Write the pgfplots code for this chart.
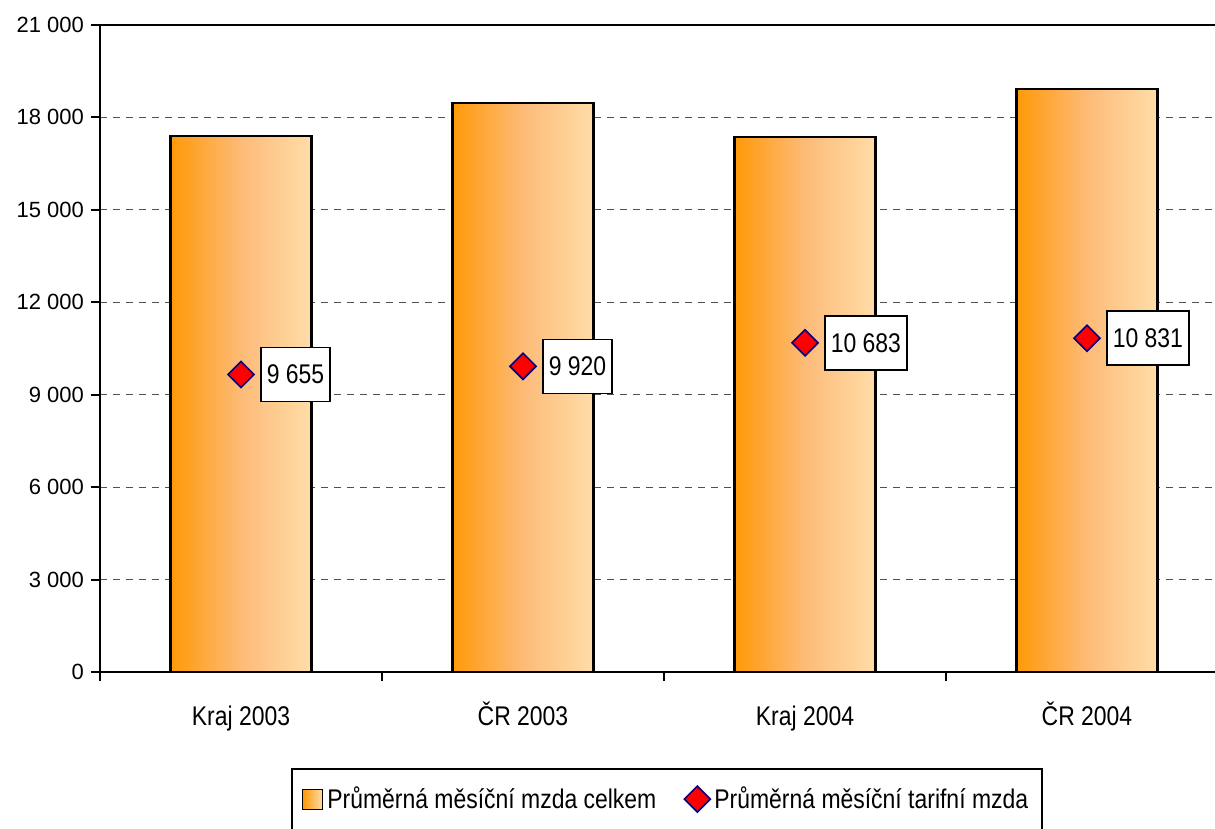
\documentclass[border=0pt]{standalone}
\usepackage{fontspec}
\setmainfont{Liberation Sans}[FakeStretch=0.85]
\newfontfamily\yfont{Liberation Sans}
\usepackage{pgfplots}
\pgfplotsset{compat=1.18}
\definecolor{barL}{HTML}{FF9908}
\definecolor{barM}{HTML}{FDBB78}
\definecolor{barR}{HTML}{FFDDA8}
\definecolor{mkblue}{HTML}{000080}
\definecolor{gridc}{HTML}{505050}
\newcommand{\ff}{\fontsize{13.5}{16}\selectfont}
\pgfplotsset{
  barlegend/.style={legend image code/.code={\draw[left color=barL, right color=barR, draw=black, line width=0.7pt] (0pt,-5pt) rectangle (10pt,5pt);}},
  marklegend/.style={legend image code/.code={\draw[##1] plot coordinates {(5pt,0pt)};}},
  gbar/.style={ybar, bar width=0.5, draw=black, line width=1.1pt,
    left color=barL, right color=barR, middle color=barM},
}
\begin{document}
\begin{tikzpicture}
\begin{axis}[
  at={(0,0)}, anchor=south west,
  scale only axis, width=564pt, height=323.5pt,
  xmin=-0.5, xmax=3.5, ymin=0, ymax=21000,
  axis line style={line width=1pt, black},
  xtick={-0.5,0.5,1.5,2.5,3.5}, xticklabels={},
  extra x ticks={0,1,2,3},
  extra x tick labels={Kraj 2003, ČR 2003, Kraj 2004, ČR 2004},
  extra x tick style={tick style={draw=none}, xticklabel style={anchor=base, yshift=-22pt}},
  ytick={0,3000,...,21000},
  scaled y ticks=false,
  /pgf/number format/assume math mode=true,
  /pgf/number format/1000 sep={\ },
  tick pos=left, tick align=outside,
  major tick length=4.5pt,
  tick style={line width=1pt, black},
  ymajorgrids,
  grid style={gridc, line width=0.5pt, dash pattern=on 3.5pt off 3pt},
  xticklabel style={font=\ff},
  yticklabel style={font=\yfont\fontsize{11}{13}\selectfont},
  legend style={draw=black, line width=0.8pt, font=\ff, at={(0.5027,-0.1484)}, anchor=north,
    legend columns=2, inner xsep=5pt, inner ysep=7pt,
    /tikz/every even column/.append style={column sep=12pt}},
  legend cell align=left,
]
\addplot[gbar, barlegend] coordinates {(0,17400)};
\addlegendentry{Průměrná měsíční mzda celkem}
\addplot[only marks, mark=square*, mark size=4.6pt,
  mark options={rotate=45, fill=red, draw=mkblue, line width=0.8pt},
  point meta=y,
  nodes near coords={\pgfmathprintnumber{\pgfplotspointmeta}},
  every node near coord/.append style={anchor=west, xshift=9.5pt, draw=black, fill=white,
    line width=0.8pt, font=\ff, minimum height=27pt, inner xsep=3pt, text=black},
  marklegend]
  coordinates {(0,9655)};
\addlegendentry{Průměrná měsíční tarifní mzda}
\addplot[gbar, forget plot] coordinates {(1,18470)};
\addplot[gbar, forget plot] coordinates {(2,17370)};
\addplot[gbar, forget plot] coordinates {(3,18920)};
\addplot[only marks, mark=square*, mark size=4.6pt, forget plot,
  mark options={rotate=45, fill=red, draw=mkblue, line width=0.8pt},
  point meta=y,
  nodes near coords={\pgfmathprintnumber{\pgfplotspointmeta}},
  every node near coord/.append style={anchor=west, xshift=9.5pt, draw=black, fill=white,
    line width=0.8pt, font=\ff, minimum height=27pt, inner xsep=3pt, text=black}]
  coordinates {(1,9920) (2,10683) (3,10831)};
\end{axis}
\pgfresetboundingbox
\path (-50pt,-78.5pt) rectangle (557.5pt,336pt);
\end{tikzpicture}
\end{document}
